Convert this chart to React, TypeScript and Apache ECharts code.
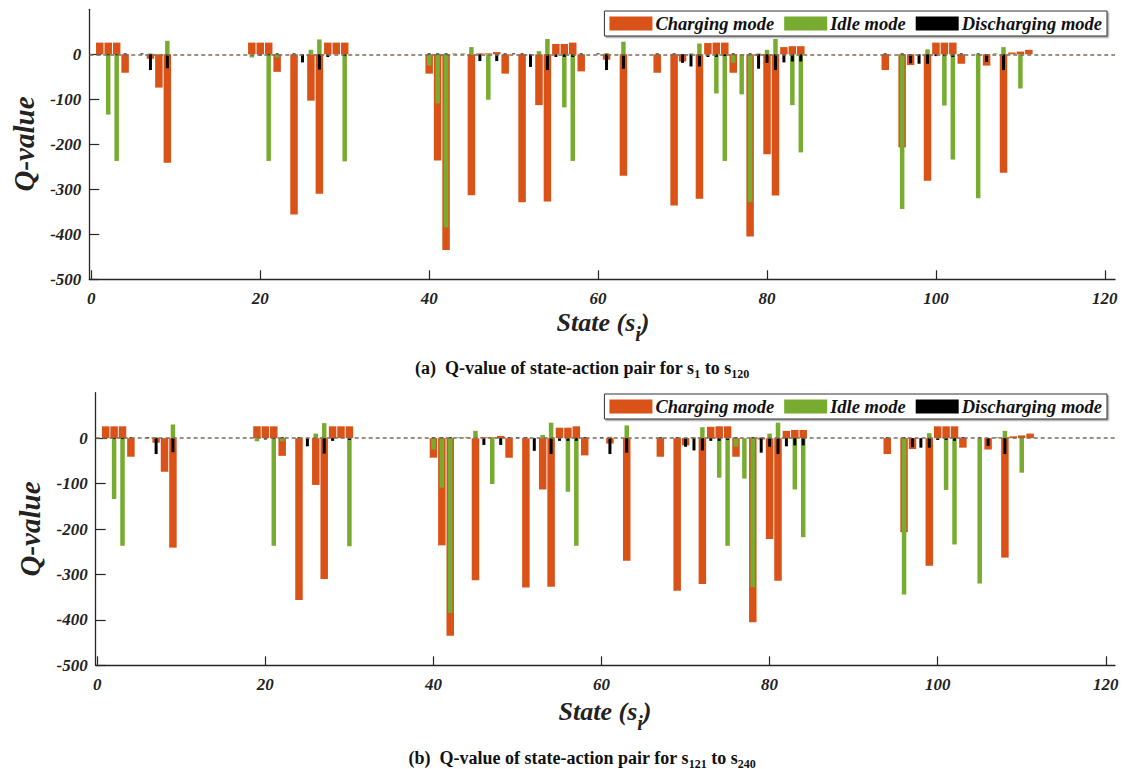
import React, { useEffect, useRef } from "react";
import * as echarts from "echarts";

// States s_i (1..120)
const STATES: number[] = Array.from({ length: 120 }, (_, i) => i + 1);

// Q-values per state (index 0 = state 1)
const CHARGING: number[] = [
  26, 26, 26, -41, 0, 0, -10, -74, -241, 0,
  0, 0, 0, 0, 0, 0, 0, 0, 26, 26,
  26, -39, 0, -356, 0, -103, -310, 26, 26, 26,
  0, 0, 0, 0, 0, 0, 0, 0, 0, -43,
  -236, -435, 0, 0, -313, 2, 2, 5, -43, 0,
  -329, 0, -113, -327, 23, 23, 26, -38, 0, 0,
  -12, 0, -270, 0, 0, 0, -41, 0, -336, -16,
  0, -321, 25, 26, 26, -41, 0, -405, -3, -222,
  -314, 16, 18, 18, 0, 0, 0, 0, 0, 0,
  0, 0, 0, -35, 0, -207, -24, 0, -281, 26,
  26, 26, -21, 0, 0, -25, 0, -263, 4, 6,
  10, 0, 0, 0, 0, 0, 0, 0, 0, 0,
];
const IDLE: number[] = [
  0, -134, -237, 0, 0, 0, 2, 0, 30, 0,
  0, 0, 0, 0, 0, 0, 0, 0, -7, 0,
  -237, -7, 0, 0, 0, 10, 33, 0, 0, -238,
  0, 0, 0, 0, 0, 0, 0, 0, 0, -25,
  -109, -385, 2, 2, 16, 0, -101, 0, 0, 0,
  0, 0, 7, 34, 0, -118, -237, 0, 0, 0,
  3, 0, 28, 0, 0, 0, 0, 0, 0, 0,
  2, 24, 0, -87, -237, -19, -89, -328, 2, 10,
  34, 0, -113, -218, 0, 0, 0, 0, 0, 0,
  0, 0, 0, 0, 0, -344, 0, 0, 11, 0,
  -114, -234, 0, 0, -320, 0, 2, 16, 0, -76,
  0, 0, 0, 0, 0, 0, 0, 0, 0, 0,
];
const DISCHARGING: number[] = [
  -2, -2, -2, 2, 0, 2, -35, 0, -31, 0,
  0, 0, 0, 0, 0, 0, 0, 0, 0, -3,
  -2, 2, 0, 2, -18, 0, -34, -6, 0, -4,
  0, 0, 0, 0, 0, 0, 0, 0, 0, 2,
  2, 2, 0, 0, 0, -15, 0, -15, 2, 2,
  2, -28, 0, -35, -6, -6, -6, 2, 0, 2,
  -35, 0, -32, 0, 0, 0, 2, 0, 2, -19,
  -27, -27, -6, -6, -4, 2, 0, 2, -32, -19,
  -35, -18, -16, -16, 0, 0, 0, 0, 0, 0,
  0, 0, 0, 2, 0, 2, -20, -21, -21, -4,
  -4, -6, 2, 0, 2, -17, 0, -35, 0, 0,
  0, 0, 0, 0, 0, 0, 0, 0, 0, 0,
];

const X_TICKS: number[] = [0, 20, 40, 60, 80, 100, 120];
const Y_TICKS: number[] = [-500, -400, -300, -200, -100, 0];

const SERIES_NAMES = ["Charging mode", "Idle mode", "Discharging mode"];
const COLORS = ["#D95319", "#77AC30", "#000000"];
const BAR_WIDTHS = [7.5, 4.5, 3];

const SERIF = "'Liberation Serif', 'Times New Roman', serif";
const AXIS_COLOR = "#262626";

const PANELS = [
  { left: 89.3, top: 9.3, right: 1115, bottom: 279.3, xmin: -0.24, xmax: 121.2 },
  { left: 95.7, top: 392.7, right: 1115, bottom: 665.3, xmin: -0.19, xmax: 121.1 },
];

export default function App() {
  const ref = useRef<HTMLDivElement>(null);

  useEffect(() => {
    if (!ref.current) return;
    const chart = echarts.init(ref.current, null, { renderer: "svg" });
    const valueSets = [CHARGING, IDLE, DISCHARGING];

    const grid: any[] = [];
    const xAxis: any[] = [];
    const yAxis: any[] = [];
    const series: any[] = [];
    const legend: any[] = [];

    PANELS.forEach((p, g) => {
      grid.push({
        left: p.left,
        top: p.top,
        width: p.right - p.left,
        height: p.bottom - p.top,
        containLabel: false,
      });
      for (let k = 0; k < 3; k++) {
        xAxis.push({
          type: "value",
          gridIndex: g,
          min: p.xmin,
          max: p.xmax,
          show: k === 0,
          axisLine: { show: true, onZero: false, lineStyle: { color: AXIS_COLOR, width: 1.3 } },
          axisTick: {
            show: true,
            inside: true,
            length: 9,
            customValues: X_TICKS,
            lineStyle: { color: AXIS_COLOR, width: 1.2 },
          },
          axisLabel: {
            show: true,
            customValues: X_TICKS,
            margin: 11,
            color: "#222",
            fontFamily: SERIF,
            fontWeight: "bold",
            fontStyle: "italic",
            fontSize: 17,
          },
          splitLine: { show: false },
        });
      }
      yAxis.push({
        type: "value",
        gridIndex: g,
        min: -500,
        max: 100,
        axisLine: { show: true, onZero: false, lineStyle: { color: AXIS_COLOR, width: 1.3 } },
        axisTick: {
          show: true,
          inside: true,
          length: 10,
          customValues: Y_TICKS,
          lineStyle: { color: AXIS_COLOR, width: 1.2 },
        },
        axisLabel: {
          show: true,
          customValues: Y_TICKS,
          margin: 8,
          color: "#222",
          fontFamily: SERIF,
          fontWeight: "bold",
          fontStyle: "italic",
          fontSize: 17,
        },
        splitLine: { show: false },
      });
      for (let k = 0; k < 3; k++) {
        const s: any = {
          name: SERIES_NAMES[k],
          type: "bar",
          xAxisIndex: g * 3 + k,
          yAxisIndex: g,
          barWidth: BAR_WIDTHS[k],
          itemStyle: { color: COLORS[k] },
          data: STATES.map((st, i) => [st, valueSets[k][i]]),
          silent: true,
        };
        if (k === 2) {
          s.markLine = {
            silent: true,
            symbol: "none",
            label: { show: false },
            lineStyle: { color: "#7d6b5a", type: [4, 3], width: 1.5 },
            data: [{ yAxis: 0 }],
          };
        }
        series.push(s);
      }
      legend.push({
        data: SERIES_NAMES,
        right: 23,
        top: g === 0 ? 11 : 394,
        orient: "horizontal",
        icon: "rect",
        itemWidth: 43,
        itemHeight: 14,
        itemGap: 10,
        selectedMode: false,
        padding: [3, 5],
        borderColor: "#333",
        borderWidth: 1,
        borderRadius: 0,
        backgroundColor: "#fff",
        shadowColor: "rgba(0,0,0,0.35)",
        shadowOffsetX: 1.5,
        shadowOffsetY: 1.5,
        shadowBlur: 0,
        textStyle: {
          fontFamily: SERIF,
          fontWeight: "bold",
          fontStyle: "italic",
          fontSize: 18.5,
          color: "#111",
          padding: [0, 0, 0, -2],
        },
      });
    });

    const yLabel = (x: number, y: number) => ({
      type: "text",
      x,
      y,
      rotation: Math.PI / 2,
      style: {
        text: "Q-value",
        fontFamily: SERIF,
        fontWeight: "bold",
        fontStyle: "italic",
        fontSize: 29,
        fill: "#222",
        align: "center",
        verticalAlign: "middle",
      },
    });
    const xLabel = (x: number, y: number) => ({
      type: "text",
      x,
      y,
      style: {
        text: "{a|State (s}{b|i}{a|)}",
        align: "center",
        verticalAlign: "middle",
        rich: {
          a: {
            fontFamily: SERIF,
            fontWeight: "bold",
            fontStyle: "italic",
            fontSize: 26,
            lineHeight: 26,
            fill: "#222",
            verticalAlign: "bottom",
            padding: [0, 0, 9, 0],
          },
          b: {
            fontFamily: SERIF,
            fontWeight: "bold",
            fontStyle: "italic",
            fontSize: 20,
            lineHeight: 20,
            fill: "#222",
            verticalAlign: "bottom",
          },
        },
      },
    });
    const caption = (x: number, y: number, letter: string, from: string, to: string) => ({
      type: "text",
      x,
      y,
      style: {
        text: `{c|(${letter})  Q-value of state-action pair for s}{s|${from}}{c| to s}{s|${to}}`,
        align: "center",
        verticalAlign: "middle",
        rich: {
          c: {
            fontFamily: SERIF,
            fontWeight: "bold",
            fontSize: 18,
            fill: "#111",
            verticalAlign: "bottom",
            padding: [0, 0, 3, 0],
          },
          s: {
            fontFamily: SERIF,
            fontWeight: "bold",
            fontSize: 12,
            fill: "#111",
            verticalAlign: "bottom",
          },
        },
      },
    });

    chart.setOption({
      animation: false,
      backgroundColor: "#fff",
      grid,
      xAxis,
      yAxis,
      series,
      legend,
      graphic: [
        yLabel(24, 144),
        yLabel(30, 529),
        xLabel(603, 331),
        xLabel(605, 720),
        caption(582, 369, "a", "1", "120"),
        caption(582, 759, "b", "121", "240"),
      ],
    });

    return () => chart.dispose();
  }, []);

  return (
    <div
      ref={ref}
      style={{ position: "fixed", left: 0, top: 0, width: 1130, height: 769, background: "#fff" }}
    />
  );
}
